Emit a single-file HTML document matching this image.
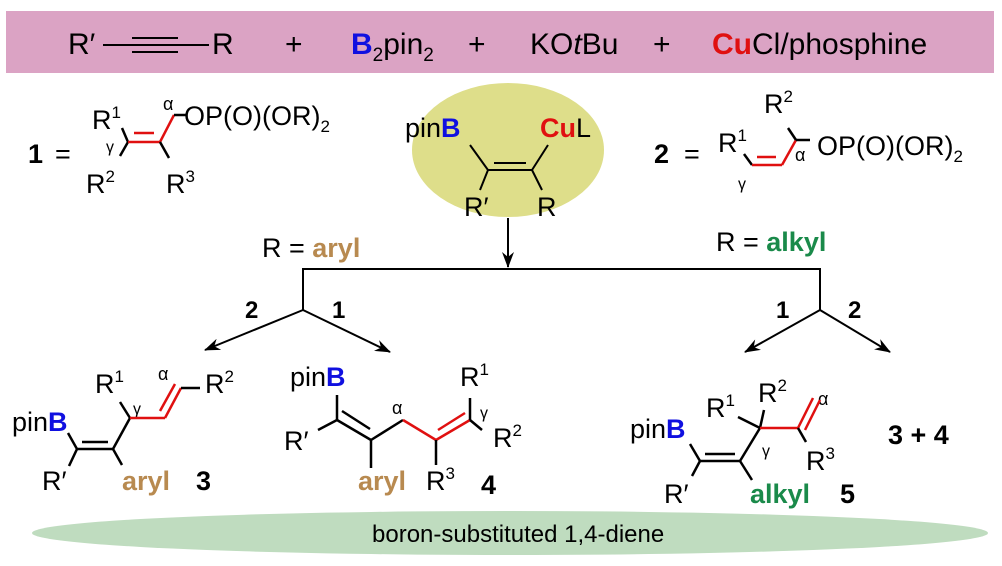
<!DOCTYPE html>
<html><head><meta charset="utf-8"><style>
html,body{margin:0;padding:0;background:#fff}
svg text{font-family:"Liberation Sans",sans-serif}
.b{font-weight:bold}
</style></head><body>
<svg width="1002" height="561" viewBox="0 0 1002 561" xmlns="http://www.w3.org/2000/svg">
<defs><marker id="ah" markerWidth="16" markerHeight="12" refX="15" refY="6" orient="auto" markerUnits="userSpaceOnUse"><path d="M0,0 L16,6 L0,12 L5,6z" fill="#000"/></marker></defs>
<rect x="6" y="11" width="988" height="62" fill="#dba3c4"/>
<g font-size="30">
<text x="68" y="54">R′</text>
<line x1="103" y1="45" x2="209" y2="45" stroke="#000" stroke-width="2"/>
<line x1="132" y1="38" x2="178" y2="38" stroke="#000" stroke-width="2"/>
<line x1="132" y1="52" x2="178" y2="52" stroke="#000" stroke-width="2"/>
<text x="212" y="54">R</text>
<text x="285" y="54">+</text>
<text x="351" y="54"><tspan fill="#1010e0" font-weight="bold">B</tspan><tspan font-size="19" dy="7">2</tspan><tspan dy="-7">pin</tspan><tspan font-size="19" dy="7">2</tspan></text>
<text x="468" y="54">+</text>
<text x="530" y="54">KO<tspan font-style="italic">t</tspan>Bu</text>
<text x="653" y="54">+</text>
<text x="712" y="54"><tspan fill="#e01010" font-weight="bold">Cu</tspan>Cl/phosphine</text>
</g>
<ellipse cx="508" cy="150" rx="96" ry="67" fill="#dede8a"/>
<g font-size="27">
<text x="405" y="137">pin<tspan fill="#1010e0" font-weight="bold">B</tspan></text>
<text x="540" y="137"><tspan fill="#e01010" font-weight="bold">Cu</tspan>L</text>
<text x="464" y="216">R′</text>
<text x="537" y="216">R</text>
</g>
<g stroke="#000" stroke-width="2" fill="none">
<polyline points="470,145 488,170 480,190"/>
<polyline points="548,145 532,170 542,190"/>
<line x1="488" y1="170" x2="532" y2="170"/>
<line x1="494" y1="163" x2="526" y2="163"/>
<line x1="508" y1="218" x2="508" y2="267" marker-end="url(#ah)"/>
<polyline points="303,310 303,269 820,269 820,310"/>
<line x1="303" y1="310" x2="205" y2="350" marker-end="url(#ah)"/>
<line x1="303" y1="310" x2="390" y2="352" marker-end="url(#ah)"/>
<line x1="820" y1="310" x2="745" y2="352" marker-end="url(#ah)"/>
<line x1="820" y1="310" x2="890" y2="352" marker-end="url(#ah)"/>
</g>
<g font-size="27">
<text x="262" y="257">R = <tspan fill="#b88a50" font-weight="bold">aryl</tspan></text>
<text x="716" y="251">R = <tspan fill="#1a8a4a" font-weight="bold">alkyl</tspan></text>
<text x="245" y="318" class="b" font-size="24">2</text>
<text x="332" y="318" class="b" font-size="24">1</text>
<text x="776" y="318" class="b" font-size="24">1</text>
<text x="848" y="318" class="b" font-size="24">2</text>
</g>
<!-- compound 1 -->
<g font-size="27">
<text x="28" y="163" class="b">1</text><text x="55" y="163">=</text>
<text x="92" y="129">R<tspan font-size="17" dy="-11">1</tspan></text>
<text x="184" y="125">OP(O)(OR)<tspan font-size="17" dy="7">2</tspan></text>
<text x="86" y="193">R<tspan font-size="17" dy="-11">2</tspan></text>
<text x="166" y="193">R<tspan font-size="17" dy="-11">3</tspan></text>
<text x="106" y="152" font-size="16" font-family="Liberation Serif">γ</text>
<text x="163" y="110" font-size="18" font-family="Liberation Serif">α</text>
</g>
<g stroke-width="2.5" fill="none">
<polyline points="122,128 128,142 120,156" stroke="#000"/>
<line x1="128" y1="142" x2="160" y2="142" stroke="#e01010"/>
<line x1="134" y1="133" x2="154" y2="133" stroke="#e01010"/>
<line x1="160" y1="142" x2="174" y2="115" stroke="#e01010"/>
<line x1="174" y1="115" x2="186" y2="115" stroke="#000"/>
<line x1="160" y1="142" x2="169" y2="158" stroke="#000"/>
</g>
<!-- compound 2 -->
<g font-size="27">
<text x="654" y="163" class="b">2</text><text x="684" y="163">=</text>
<text x="718" y="152">R<tspan font-size="17" dy="-11">1</tspan></text>
<text x="764" y="113">R<tspan font-size="17" dy="-11">2</tspan></text>
<text x="817" y="155">OP(O)(OR)<tspan font-size="17" dy="7">2</tspan></text>
<text x="795" y="161" font-size="18" font-family="Liberation Serif">α</text>
<text x="738" y="189" font-size="16" font-family="Liberation Serif">γ</text>
</g>
<g stroke-width="2.5" fill="none">
<line x1="744" y1="154" x2="752" y2="165" stroke="#000"/>
<line x1="752" y1="165" x2="782" y2="165" stroke="#e01010"/>
<line x1="782" y1="165" x2="796" y2="140" stroke="#e01010"/>
<line x1="757" y1="157" x2="776" y2="157" stroke="#e01010"/>
<line x1="796" y1="140" x2="788" y2="128" stroke="#000"/>
<line x1="796" y1="140" x2="810" y2="140" stroke="#000"/>
</g>
<!-- bottom ellipse -->
<ellipse cx="510" cy="533" rx="478" ry="22" fill="#bfdcbf"/>
<text x="372" y="542" font-size="24">boron-substituted 1,4-diene</text>
<!-- compound 3 -->
<g font-size="27">
<text x="12" y="431">pin<tspan fill="#1010e0" font-weight="bold">B</tspan></text>
<text x="95" y="393">R<tspan font-size="17" dy="-11">1</tspan></text>
<text x="205" y="393">R<tspan font-size="17" dy="-11">2</tspan></text>
<text x="42" y="490">R′</text>
<text x="122" y="490" style="fill:#b88a50" font-weight="bold">aryl</text>
<text x="196" y="490" class="b">3</text>
<text x="158" y="380" font-size="18" font-family="Liberation Serif">α</text>
<text x="133" y="414" font-size="16" font-family="Liberation Serif">γ</text>
</g>
<g stroke-width="2.5" fill="none">
<polyline points="68,433 77,449 69,466" stroke="#000"/>
<line x1="77" y1="449" x2="113" y2="449" stroke="#000"/>
<line x1="82" y1="442" x2="108" y2="442" stroke="#000"/>
<polyline points="113,449 122,465" stroke="#000"/>
<line x1="113" y1="449" x2="130" y2="418" stroke="#000"/>
<line x1="130" y1="418" x2="120" y2="402" stroke="#000"/>
<line x1="130" y1="418" x2="165" y2="418" stroke="#e01010"/>
<line x1="165" y1="418" x2="181" y2="388" stroke="#e01010"/>
<line x1="160" y1="411" x2="175" y2="384" stroke="#e01010"/>
<line x1="181" y1="388" x2="200" y2="388" stroke="#000"/>
</g>
<!-- compound 4 -->
<g font-size="27">
<text x="290" y="386">pin<tspan fill="#1010e0" font-weight="bold">B</tspan></text>
<text x="284" y="450">R′</text>
<text x="460" y="386">R<tspan font-size="17" dy="-11">1</tspan></text>
<text x="493" y="447">R<tspan font-size="17" dy="-11">2</tspan></text>
<text x="358" y="490" style="fill:#b88a50" font-weight="bold">aryl</text>
<text x="426" y="490">R<tspan font-size="17" dy="-11">3</tspan></text>
<text x="481" y="494" class="b">4</text>
<text x="392" y="414" font-size="18" font-family="Liberation Serif">α</text>
<text x="480" y="418" font-size="16" font-family="Liberation Serif">γ</text>
</g>
<g stroke-width="2.5" fill="none">
<line x1="337" y1="395" x2="337" y2="420" stroke="#000"/>
<line x1="337" y1="420" x2="318" y2="430" stroke="#000"/>
<line x1="337" y1="420" x2="371" y2="440" stroke="#000"/>
<line x1="342" y1="411" x2="370" y2="429" stroke="#000"/>
<line x1="371" y1="440" x2="371" y2="468" stroke="#000"/>
<line x1="371" y1="440" x2="403" y2="420" stroke="#000"/>
<line x1="403" y1="420" x2="436" y2="440" stroke="#e01010"/>
<line x1="436" y1="440" x2="470" y2="420" stroke="#e01010"/>
<line x1="438" y1="430" x2="465" y2="413" stroke="#e01010"/>
<line x1="436" y1="440" x2="436" y2="465" stroke="#000"/>
<line x1="470" y1="420" x2="470" y2="398" stroke="#000"/>
<line x1="470" y1="420" x2="482" y2="430" stroke="#000"/>
</g>
<!-- compound 5 -->
<g font-size="27">
<text x="630" y="438">pin<tspan fill="#1010e0" font-weight="bold">B</tspan></text>
<text x="706" y="417">R<tspan font-size="17" dy="-11">1</tspan></text>
<text x="758" y="402">R<tspan font-size="17" dy="-11">2</tspan></text>
<text x="806" y="470">R<tspan font-size="17" dy="-11">3</tspan></text>
<text x="664" y="503">R′</text>
<text x="750" y="503" style="fill:#1a8a4a" font-weight="bold">alkyl</text>
<text x="840" y="503" class="b">5</text>
<text x="888" y="444" class="b">3 + 4</text>
<text x="818" y="405" font-size="18" font-family="Liberation Serif">α</text>
<text x="762" y="456" font-size="16" font-family="Liberation Serif">γ</text>
</g>
<g stroke-width="2.5" fill="none">
<line x1="690" y1="444" x2="700" y2="461" stroke="#000"/>
<line x1="700" y1="461" x2="740" y2="461" stroke="#000"/>
<line x1="705" y1="454" x2="735" y2="454" stroke="#000"/>
<line x1="700" y1="461" x2="692" y2="476" stroke="#000"/>
<line x1="740" y1="461" x2="752" y2="480" stroke="#000"/>
<line x1="740" y1="461" x2="760" y2="428" stroke="#000"/>
<line x1="760" y1="428" x2="738" y2="417" stroke="#000"/>
<line x1="760" y1="428" x2="764" y2="410" stroke="#000"/>
<line x1="760" y1="428" x2="798" y2="428" stroke="#e01010"/>
<line x1="798" y1="428" x2="813" y2="398" stroke="#e01010"/>
<line x1="805" y1="430" x2="820" y2="400" stroke="#e01010"/>
<line x1="798" y1="428" x2="806" y2="442" stroke="#000"/>
</g>
</svg>
</body></html>
